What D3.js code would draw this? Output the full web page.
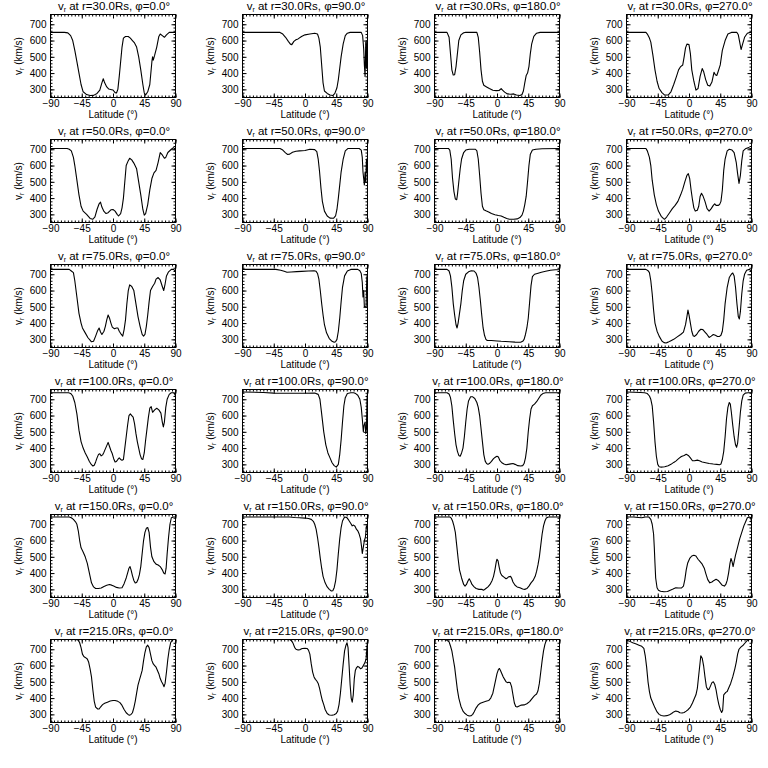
<!DOCTYPE html>
<html><head><meta charset="utf-8">
<script src="https://cdn.jsdelivr.net/npm/d3@7"></script>
<style>
html,body{margin:0;padding:0;background:#fff;}
svg{display:block;}
text{font-family:"Liberation Sans Narrow","Liberation Sans",Arial,sans-serif;fill:#000;}
</style></head>
<body>
<svg id="chart" width="768" height="768"></svg>
<script>
const radii = ["30.0","50.0","75.0","100.0","150.0","215.0"];
const phis = ["0.0","90.0","180.0","270.0"];
const xTicks = [-90,-45,0,45,90];
const yTicks = [300,400,500,600,700];
const xDomain = [-90,90];
const yDomain = [250,760];

const r30_p0 = [[-90,650],[-70,650],[-65,647],[-61,630],[-58,600],[-55,540],[-52,470],[-49,400],[-46,330],[-43,285],[-38,268],[-33,262],[-28,263],[-23,275],[-19,295],[-16,340],[-14,365],[-12,340],[-9,315],[-6,302],[-2,298],[0,296],[3,280],[5,278],[7,300],[9,380],[11,470],[13,560],[15,615],[18,625],[22,625],[25,615],[28,600],[31,585],[34,560],[37,500],[40,420],[43,330],[45,278],[47,265],[50,285],[53,330],[56,470],[57,500],[58,480],[60,510],[63,560],[66,625],[68,640],[71,630],[74,620],[77,635],[81,650],[90,650]];
const r30_p90 = [[-90,650],[-36,650],[-32,640],[-28,620],[-24,595],[-21,578],[-19,575],[-16,595],[-13,605],[-10,610],[-5,625],[0,635],[7,640],[14,645],[18,640],[20,615],[22,560],[24,450],[26,340],[28,290],[32,275],[36,265],[40,262],[43,275],[46,310],[48,360],[50,430],[52,500],[55,580],[58,630],[61,645],[65,650],[81,650],[83,630],[84.5,550],[85.5,450],[86.5,380],[87.5,590],[88.5,430],[89.3,600],[90,580]];
const r30_p180 = [[-90,650],[-72,650],[-69,620],[-67,520],[-65,420],[-63,388],[-61,390],[-59,440],[-57,520],[-55,600],[-52,635],[-48,648],[-45,650],[-29,650],[-27,620],[-25,530],[-23,420],[-21,350],[-19,325],[-15,315],[-11,305],[-6,295],[-1,292],[3,293],[6,305],[8,295],[11,283],[15,272],[20,270],[24,272],[28,265],[33,262],[36,268],[38,290],[40,340],[42,385],[44,400],[46,440],[48,520],[50,580],[53,625],[57,645],[62,650],[90,650]];
const r30_p270 = [[-90,650],[-62,650],[-60,640],[-57,615],[-55,590],[-52,510],[-49,420],[-46,350],[-43,305],[-39,280],[-35,265],[-30,265],[-26,285],[-22,330],[-18,380],[-15,420],[-12,440],[-9,450],[-7,500],[-5,555],[-3,578],[0,575],[2,520],[4,420],[7,350],[10,295],[13,305],[16,380],[19,428],[21,410],[24,360],[27,325],[30,320],[33,345],[36,405],[38,390],[40,385],[42,410],[45,450],[48,540],[52,600],[56,640],[61,650],[69,650],[71,635],[73,590],[75,545],[77,575],[80,620],[84,645],[88,650],[90,650]];

const r50_p0 = [[-90,705],[-66,705],[-63,700],[-60,690],[-57,650],[-55,600],[-52,510],[-49,420],[-46,350],[-43,320],[-38,300],[-33,275],[-29,270],[-26,285],[-23,330],[-20,365],[-18,375],[-16,345],[-13,318],[-10,305],[-7,310],[-3,328],[0,330],[3,320],[6,300],[8,290],[11,305],[13,340],[15,400],[17,500],[19,600],[22,630],[24,645],[27,635],[30,615],[34,580],[37,500],[40,420],[43,330],[45,295],[47,305],[50,360],[53,450],[56,520],[59,555],[62,570],[65,620],[68,680],[71,665],[74,645],[76,650],[79,680],[84,700],[87,710],[90,700]];
const r50_p90 = [[-90,705],[-36,705],[-32,695],[-28,678],[-25,668],[-22,670],[-18,682],[-13,688],[-8,690],[0,692],[7,700],[14,698],[17,685],[19,640],[21,560],[23,460],[25,380],[28,320],[32,290],[36,277],[41,276],[44,290],[46,330],[48,400],[50,480],[52,560],[55,640],[58,690],[62,705],[78,705],[81,695],[82.5,650],[83.5,560],[84.5,520],[85.5,480],[86.5,560],[87.5,500],[88.5,640],[89.3,560],[90,640]];
const r50_p180 = [[-90,705],[-70,705],[-68,695],[-66,640],[-64,520],[-62,440],[-60,395],[-58,390],[-57,420],[-55,500],[-53,580],[-51,640],[-48,680],[-45,695],[-40,700],[-31,700],[-29,690],[-27,640],[-25,540],[-23,430],[-21,350],[-19,328],[-16,322],[-12,315],[-8,305],[-3,298],[2,293],[6,290],[10,282],[14,275],[18,270],[24,270],[29,272],[33,280],[36,295],[38,320],[40,360],[42,410],[44,500],[46,600],[48,670],[51,695],[56,700],[65,703],[90,705]];
const r50_p270 = [[-90,705],[-62,705],[-60,690],[-57,650],[-55,600],[-53,510],[-50,420],[-47,360],[-44,320],[-40,288],[-37,275],[-35,270],[-32,285],[-28,310],[-24,335],[-20,355],[-16,380],[-12,420],[-9,455],[-6,500],[-3,540],[-1,550],[1,520],[3,450],[5,390],[7,340],[9,320],[12,325],[14,350],[16,410],[18,430],[20,415],[23,380],[26,335],[29,320],[32,335],[35,355],[37,365],[39,355],[42,355],[44,360],[46,380],[48,450],[50,570],[52,640],[55,690],[58,700],[62,695],[65,680],[68,620],[70,550],[72,490],[74,540],[76,630],[78,690],[82,705],[86,710],[90,700]];

const r75_p0 = [[-90,730],[-63,730],[-60,720],[-57,710],[-55,660],[-52,560],[-49,460],[-46,400],[-44,370],[-40,340],[-36,310],[-33,295],[-31,285],[-28,288],[-25,320],[-22,355],[-20,370],[-18,345],[-16,330],[-13,350],[-11,380],[-9,420],[-7,450],[-5,430],[-3,400],[-1,375],[2,365],[5,370],[7,370],[9,350],[12,330],[14,320],[16,360],[18,420],[20,520],[22,600],[24,635],[27,625],[30,600],[33,520],[36,440],[39,380],[42,330],[44,320],[46,330],[48,380],[50,450],[52,530],[54,600],[57,625],[60,645],[62,670],[65,680],[68,665],[71,625],[73,600],[75,640],[77,690],[80,715],[84,730],[87,730],[90,720]];
const r75_p90 = [[-90,730],[-42,730],[-35,725],[-30,718],[-26,712],[-20,714],[-12,716],[-5,718],[5,720],[13,722],[16,718],[18,705],[20,670],[22,600],[24,520],[26,450],[28,390],[31,340],[35,305],[39,288],[42,282],[44,285],[46,300],[48,350],[50,430],[52,530],[54,620],[57,690],[61,720],[66,730],[76,730],[79,722],[81,705],[82.5,650],[83.5,560],[84.5,600],[85.5,500],[87,500],[88,500],[89,680],[90,700]];
const r75_p180 = [[-90,730],[-72,730],[-69,720],[-67,690],[-65,620],[-63,520],[-61,450],[-59,390],[-57.5,370],[-56,400],[-54,460],[-52,520],[-50,600],[-48,660],[-45,700],[-41,715],[-37,722],[-33,720],[-30,705],[-28,680],[-26,620],[-24,540],[-22,450],[-20,370],[-18,325],[-16,300],[-14,293],[-8,293],[0,290],[6,288],[12,287],[18,285],[26,283],[34,282],[37,288],[39,300],[41,330],[43,370],[45,430],[47,530],[49,630],[51,685],[54,700],[58,705],[64,712],[70,718],[77,725],[84,728],[90,728]];
const r75_p270 = [[-90,730],[-62,730],[-59,722],[-57,710],[-55,660],[-53,580],[-51,480],[-49,400],[-46,350],[-43,320],[-39,290],[-36,280],[-33,278],[-30,283],[-26,292],[-22,300],[-17,315],[-12,330],[-8,345],[-5,390],[-3,440],[-1.5,480],[0,450],[2,400],[4,350],[6,322],[8,318],[11,330],[14,350],[17,362],[20,360],[23,345],[26,330],[29,312],[32,320],[35,330],[38,325],[41,318],[44,318],[46,325],[48,350],[50,420],[52,520],[55,620],[58,680],[61,700],[63,708],[65,690],[67,620],[69,520],[71,440],[72.5,425],[74,470],[76,580],[78,660],[80,700],[83,725],[87,730],[90,720]];

const r100_p0 = [[-90,740],[-64,740],[-61,736],[-58,720],[-55,680],[-52,610],[-49,510],[-46,440],[-43,400],[-40,370],[-37,345],[-34,318],[-31,298],[-29,290],[-27,295],[-25,315],[-23,340],[-21,360],[-19,365],[-17,352],[-15,358],[-13,375],[-11,395],[-9,415],[-7,435],[-5,410],[-3,385],[-1,365],[1,335],[3,315],[5,318],[7,330],[9,340],[11,330],[13,325],[15,330],[17,400],[19,470],[21,540],[23,600],[25,610],[27,600],[29,590],[31,550],[33,490],[35,440],[37,400],[39,360],[41,335],[43,330],[45,370],[47,450],[49,520],[51,590],[53,645],[55,655],[57,620],[60,635],[63,645],[66,635],[69,615],[71,560],[72.5,530],[74,560],[76,650],[78,700],[81,730],[84,740],[88,740],[90,720]];
const r100_p90 = [[-90,745],[-60,742],[-45,738],[-20,737],[0,737],[14,738],[19,730],[21.5,700],[24,610],[27,500],[30,420],[33,370],[36,340],[39,310],[42,292],[45,283],[48,300],[50,360],[52,450],[54,560],[56,660],[58,710],[61,735],[66,740],[70,740],[73,735],[76,725],[79,700],[81,650],[82.5,580],[84,500],[85,540],[86.5,560],[87.5,490],[88.5,520],[89.3,700],[90,740]];
const r100_p180 = [[-90,740],[-72,740],[-69,732],[-67,710],[-65,660],[-63,570],[-61,490],[-59,420],[-57,380],[-55,355],[-53,350],[-51,370],[-49,400],[-47,470],[-45,560],[-43,640],[-41,690],[-38,715],[-35,715],[-32,705],[-29,680],[-27,650],[-25,600],[-23,520],[-21,440],[-19,360],[-17,320],[-15,305],[-13,300],[-11,305],[-8,318],[-5,335],[-2,345],[0,350],[2,345],[4,325],[7,310],[10,302],[13,298],[16,300],[20,303],[23,305],[26,300],[30,292],[34,290],[37,292],[39,305],[41,340],[43,400],[45,500],[47,580],[49,640],[51,660],[54,670],[57,685],[60,705],[63,725],[66,735],[70,740],[90,740]];
const r100_p270 = [[-90,745],[-70,742],[-64,740],[-60,735],[-57,720],[-55,700],[-53,660],[-51,560],[-49,440],[-47,350],[-45,300],[-43,285],[-40,283],[-35,285],[-30,292],[-26,300],[-22,312],[-19,320],[-15,335],[-11,348],[-7,355],[-4,362],[-1,355],[2,340],[5,322],[8,322],[12,326],[15,322],[19,315],[24,310],[29,305],[35,302],[40,300],[44,298],[46,302],[48,330],[50,380],[52,470],[54,580],[56,650],[58,680],[59.5,670],[61,620],[63,540],[65,470],[67,420],[68.5,405],[70,430],[72,520],[74,620],[76,690],[78,725],[81,738],[85,740],[90,740]];

const r150_p0 = [[-90,745],[-63,745],[-60,740],[-57,730],[-54,715],[-52,700],[-50,660],[-48,600],[-46,555],[-43,530],[-40,500],[-37,460],[-35,420],[-33,380],[-31,340],[-28,315],[-25,305],[-21,305],[-17,308],[-13,318],[-9,325],[-5,330],[-2,326],[1,320],[5,312],[9,308],[13,310],[16,335],[19,370],[21,400],[23,430],[24.5,440],[26,420],[28,385],[30,355],[32,340],[34,342],[36,360],[38,390],[40,440],[42,520],[44,600],[46,650],[48,675],[50,680],[52,650],[54,560],[56,500],[59,470],[62,455],[65,450],[68,440],[71,420],[73,400],[75,395],[76.5,430],[78,520],[80,620],[82,700],[84,740],[87,745],[90,745]];
const r150_p90 = [[-90,745],[-22,745],[-15,742],[-8,740],[0,738],[5,735],[9,730],[12,718],[14,700],[16,670],[18,620],[20,560],[22,490],[24,430],[26,380],[29,340],[32,315],[35,300],[38,290],[40,292],[42,310],[44,350],[46,420],[48,520],[50,610],[52,680],[54,720],[57,745],[60,742],[63,725],[66,705],[68,690],[70,695],[72,688],[74,670],[76,660],[78,640],[80,610],[81.5,560],[82.5,520],[84,560],[85.5,600],[87,620],[88.5,690],[90,680]];
const r150_p180 = [[-90,745],[-68,745],[-66,738],[-64,720],[-62,690],[-60,650],[-58,570],[-56,490],[-54,420],[-51,370],[-48,330],[-46,320],[-44,330],[-42,350],[-40,365],[-38,350],[-36,330],[-33,315],[-30,305],[-26,300],[-22,300],[-19,295],[-16,305],[-13,315],[-10,330],[-7,355],[-5,380],[-3,420],[-1,470],[0,485],[1.5,475],[3,440],[5,400],[7,385],[10,375],[13,365],[15,370],[17,378],[19.5,380],[21,370],[23,345],[26,325],[29,315],[33,310],[37,302],[40,300],[43,305],[46,320],[49,340],[52,355],[55,380],[57,410],[59,450],[61,500],[63,570],[65,640],[67,690],[69,720],[71,738],[74,745],[90,745]];
const r150_p270 = [[-90,745],[-80,745],[-73,742],[-68,740],[-63,745],[-58,745],[-55,730],[-53,700],[-51,640],[-50,560],[-49,460],[-48,370],[-46,310],[-44,295],[-41,288],[-36,285],[-31,287],[-27,295],[-23,302],[-19,310],[-15,308],[-11,308],[-8,320],[-6,360],[-4,420],[-2,460],[1,490],[4,505],[7,510],[10,505],[13,485],[16,470],[19,455],[22,430],[24,400],[27,360],[30,340],[33,345],[36,355],[39,362],[42,355],[45,340],[48,325],[51,320],[53,330],[55,355],[57,400],[59,460],[60.5,490],[62,470],[63.5,440],[65,470],[67,510],[70,560],[73,610],[76,650],[79,690],[82,720],[84,740],[87,745],[89,740],[90,710]];

const r215_p0 = [[-90,760],[-53,760],[-50,755],[-48,740],[-46,710],[-44,670],[-42,655],[-40,650],[-37,640],[-35,620],[-33,580],[-31,530],[-29,450],[-27,380],[-25,345],[-22,333],[-20,333],[-18,345],[-15,360],[-12,368],[-8,375],[-4,382],[0,385],[3,385],[7,380],[10,372],[13,355],[16,330],[19,310],[22,298],[24,295],[26,300],[28,310],[30,340],[32,380],[34,430],[36,480],[38,510],[40,540],[42,570],[44,630],[46,680],[48,715],[50,725],[52,710],[54,670],[56,630],[58,610],[60,600],[62,590],[64,570],[66,550],[68,520],[70,500],[72,485],[73.5,470],[75,490],[77,560],[79,640],[81,700],[83,740],[85,755],[87,760],[90,760]];
const r215_p90 = [[-90,760],[-22,760],[-19,750],[-17,735],[-15,712],[-13,700],[-10,695],[-7,698],[-4,705],[0,706],[3,705],[5,695],[7,670],[9,610],[11,560],[13,530],[15,515],[17,505],[19,490],[21,460],[23,420],[25,385],[27,360],[29,330],[32,305],[35,296],[39,295],[42,298],[45,305],[47,320],[49,360],[51,430],[53,520],[55,610],[57,690],[59,725],[60.5,740],[62,710],[63.5,600],[65,480],[66.5,400],[68,375],[69.5,420],[71,520],[72.5,570],[74,585],[76,595],[78,590],[80,580],[82,585],[84,600],[86,615],[88,640],[89,700],[90,750]];
const r215_p180 = [[-90,760],[-75,760],[-72,755],[-69,745],[-67,720],[-65,690],[-63,640],[-61,590],[-59,520],[-57,450],[-55,400],[-52,350],[-49,320],[-46,305],[-43,295],[-40,290],[-37,292],[-35,300],[-33,315],[-30,340],[-27,358],[-24,368],[-20,375],[-16,380],[-12,385],[-9,400],[-6,430],[-4,470],[-2,510],[0,550],[2,575],[3.5,582],[5,570],[7,550],[9,530],[11,515],[13,500],[15,495],[17,497],[19,495],[21,470],[23,420],[25,370],[27,348],[29,345],[32,352],[35,357],[39,358],[43,365],[47,378],[51,400],[54,415],[57,425],[59,445],[61,490],[63,560],[65,630],[67,690],[69,730],[71,755],[73,760],[90,760]];
const r215_p270 = [[-90,755],[-86,750],[-81,740],[-76,732],[-72,725],[-68,718],[-65,705],[-63,660],[-61,590],[-59,500],[-57,440],[-55,400],[-52,370],[-49,340],[-46,315],[-43,300],[-40,293],[-36,290],[-32,292],[-28,298],[-25,305],[-22,315],[-19,320],[-16,318],[-13,310],[-10,308],[-7,312],[-4,320],[-1,330],[2,345],[5,370],[8,400],[10,420],[12,460],[14,540],[16,620],[17,660],[19,645],[21,600],[23,530],[25,470],[27,452],[29,455],[31,475],[33,495],[35,500],[37,485],[39,450],[41,400],[43,360],[45,330],[47,312],[48.5,325],[50,420],[53,435],[55,440],[57,460],[60,490],[63,530],[66,580],[68,620],[70,670],[72,700],[75,715],[78,725],[81,740],[84,755],[87,760],[90,760]];

const series = [
  [r30_p0, r30_p90, r30_p180, r30_p270],
  [r50_p0, r50_p90, r50_p180, r50_p270],
  [r75_p0, r75_p90, r75_p180, r75_p270],
  [r100_p0, r100_p90, r100_p180, r100_p270],
  [r150_p0, r150_p90, r150_p180, r150_p270],
  [r215_p0, r215_p90, r215_p180, r215_p270]
];

const svg = d3.select("#chart");
const cellW = 192, cellH = 125;
const bx0 = 50.5, bx1 = 175.5, by0 = 14.5, by1 = 97.5;
const x = d3.scaleLinear().domain(xDomain).range([bx0, bx1]);
const y = d3.scaleLinear().domain(yDomain).range([by1, by0]);
const line = d3.line().x(d => x(d[0])).y(d => y(d[1]));

const xMinor = d3.range(-90, 91, 5);
const yMinor = d3.range(260, 760, 20);

radii.forEach((r, ri) => {
  phis.forEach((p, pi) => {
    const g = svg.append("g").attr("transform", `translate(${pi*cellW},${ri*cellH})`);
    // title
    const t = g.append("text").attr("x", (bx0+bx1)/2 + 1).attr("y", 10)
      .attr("text-anchor","middle").attr("font-size", 11.5);
    t.append("tspan").text("v");
    t.append("tspan").attr("font-size", 7).attr("dy", 2).text("r");
    t.append("tspan").attr("dy", -2).text(` at r=${r}Rs, `);
    t.append("tspan").attr("font-family", "'Liberation Sans', Arial, sans-serif").text("\u03C6");
    t.append("tspan").text(`=${p}\u00B0`);

    // axes
    const axB = d3.axisBottom(x).tickValues(xTicks).tickSize(-4).tickPadding(2.5)
      .tickFormat(d => d < 0 ? "\u2212" + Math.abs(d) : String(d));
    const gb = g.append("g").attr("transform", `translate(0,${by1})`).call(axB);
    gb.select(".domain").remove();
    gb.selectAll("text").attr("font-size", 10).attr("font-family", null);
    g.append("g").attr("transform", `translate(0,${by1})`)
      .call(d3.axisBottom(x).tickValues(xMinor).tickSize(-2).tickFormat(""))
      .select(".domain").remove();
    g.append("g").attr("transform", `translate(0,${by0})`)
      .call(d3.axisTop(x).tickValues(xTicks).tickSize(-4).tickFormat(""))
      .select(".domain").remove();
    g.append("g").attr("transform", `translate(0,${by0})`)
      .call(d3.axisTop(x).tickValues(xMinor).tickSize(-2).tickFormat(""))
      .select(".domain").remove();

    const axL = d3.axisLeft(y).tickValues(yTicks).tickSize(-4).tickPadding(4);
    const gl = g.append("g").attr("transform", `translate(${bx0},0)`).call(axL);
    gl.select(".domain").remove();
    gl.selectAll("text").attr("font-size", 10).attr("font-family", null);
    g.append("g").attr("transform", `translate(${bx0},0)`)
      .call(d3.axisLeft(y).tickValues(yMinor).tickSize(-2).tickFormat(""))
      .select(".domain").remove();
    g.append("g").attr("transform", `translate(${bx1},0)`)
      .call(d3.axisRight(y).tickValues(yTicks).tickSize(-4).tickFormat(""))
      .select(".domain").remove();
    g.append("g").attr("transform", `translate(${bx1},0)`)
      .call(d3.axisRight(y).tickValues(yMinor).tickSize(-2).tickFormat(""))
      .select(".domain").remove();

    g.selectAll(".tick line").attr("stroke", "#000").attr("stroke-width", 1);

    // clip + curve
    const cid = `clip-${ri}-${pi}`;
    g.append("clipPath").attr("id", cid).append("rect")
      .attr("x", bx0).attr("y", by0).attr("width", bx1-bx0).attr("height", by1-by0);
    g.append("path").datum(series[ri][pi])
      .attr("clip-path", `url(#${cid})`)
      .attr("fill", "none").attr("stroke", "#000").attr("stroke-width", 1.1)
      .attr("stroke-linejoin", "round")
      .attr("d", line);

    // box
    g.append("rect").attr("x", bx0).attr("y", by0).attr("width", bx1-bx0).attr("height", by1-by0)
      .attr("fill", "none").attr("stroke", "#000").attr("stroke-width", 1);

    // x label
    g.append("text").attr("x", (bx0+bx1)/2).attr("y", 118).attr("text-anchor","middle")
      .attr("font-size", 10).text("Latitude (\u00B0)");
    // y label
    const yl = g.append("text").attr("transform", `translate(22,${(by0+by1)/2}) rotate(-90)`)
      .attr("text-anchor","middle").attr("font-size", 10);
    yl.append("tspan").text("v");
    yl.append("tspan").attr("font-size", 7).attr("dy", 2).text("r");
    yl.append("tspan").attr("dy", -2).text(" (km/s)");
  });
});
</script>
</body></html>
